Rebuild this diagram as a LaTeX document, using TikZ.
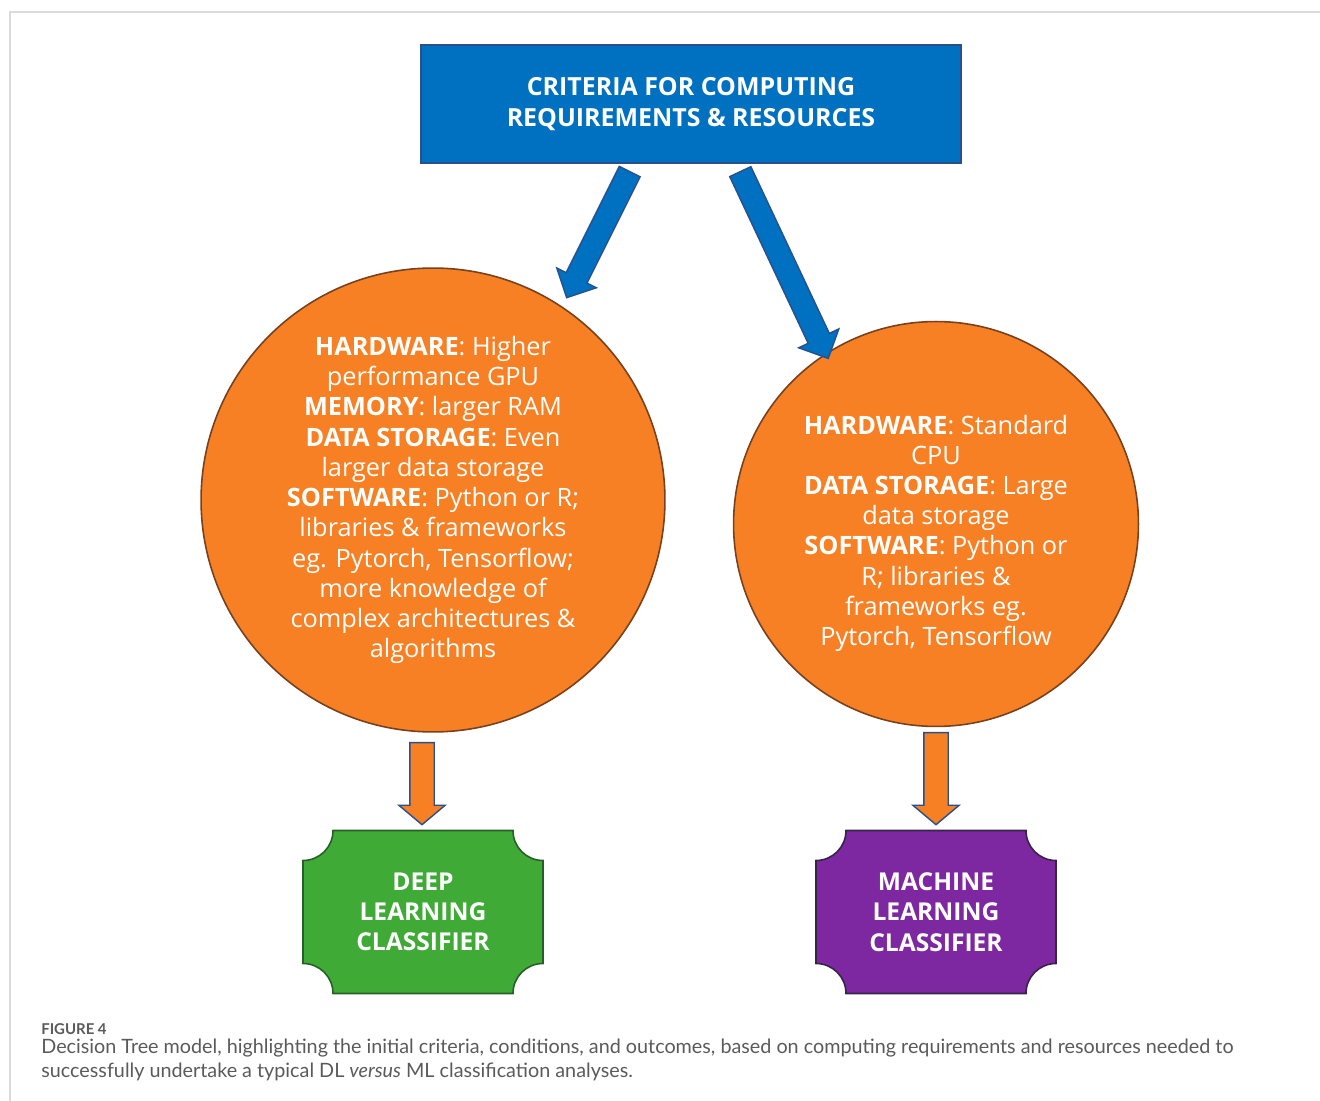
\documentclass[tikz,border=0pt]{standalone}
\usepackage{fontspec}
\setmainfont{Open Sans}
\newfontfamily\capfont{Lato}
\usetikzlibrary{shapes.arrows,positioning,calc,backgrounds}

\definecolor{critblue}{RGB}{0,112,192}
\definecolor{blueedge}{RGB}{40,80,140}
\definecolor{condorange}{RGB}{247,128,36}
\definecolor{orangeedge}{RGB}{120,65,30}
\definecolor{dlgreen}{RGB}{64,170,55}
\definecolor{greenedge}{RGB}{40,95,40}
\definecolor{mlpurple}{RGB}{125,40,160}
\definecolor{purpleedge}{RGB}{55,35,70}
\definecolor{capgrey}{RGB}{90,90,90}
\definecolor{framegrey}{RGB}{218,218,218}

% concave-cornered plate behind an outcome node
\newcommand{\platecorner}{0.6cm}
\newcommand{\outcomeplate}[3]{%
  \begin{pgfonlayer}{background}
  \filldraw[fill=#2, draw=#3, line width=0.9pt]
    ([xshift=\platecorner]#1.north west) -- ([xshift=-\platecorner]#1.north east)
    arc[start angle=180, end angle=270, radius=\platecorner]
    -- ([yshift=\platecorner]#1.south east)
    arc[start angle=90, end angle=180, radius=\platecorner]
    -- ([xshift=\platecorner]#1.south west)
    arc[start angle=0, end angle=90, radius=\platecorner]
    -- ([yshift=-\platecorner]#1.north west)
    arc[start angle=270, end angle=360, radius=\platecorner]
    -- cycle;
  \end{pgfonlayer}}

\begin{document}
\begin{tikzpicture}[
    x=0.02cm, y=-0.02cm,
    critbox/.style={rectangle, draw=blueedge, fill=critblue, line width=1pt,
                    text=white, align=center, minimum width=10.8cm,
                    minimum height=2.36cm,
                    font=\bfseries\fontsize{14.2}{17.2}\selectfont},
    condcirc/.style={circle, draw=orangeedge, fill=condorange, line width=0.9pt,
                     text=white, align=center, inner sep=0pt,
                     font=\fontsize{14.4}{17.2}\selectfont},
    outcome/.style={rectangle, minimum width=4.8cm, minimum height=3.26cm,
                    outer sep=0pt, text=white, align=center,
                    font=\bfseries\fontsize{14}{17.2}\selectfont},
    bluearrow/.style={single arrow, draw=blueedge, fill=critblue, line width=0.8pt,
                      inner xsep=0pt, inner ysep=0.22cm, minimum width=0.87cm,
                      single arrow head extend=0.21cm, single arrow tip angle=90},
    orangearrow/.style={single arrow, draw=blueedge, fill=condorange, line width=0.8pt,
                        inner xsep=0pt, inner ysep=0.23cm, minimum width=0.9cm,
                        single arrow head extend=0.22cm, single arrow tip angle=100},
  ]
    \useasboundingbox (0,0) rectangle (1320,1101);
    \draw[framegrey, line width=0.9pt] (1320,12) -- (10,12) -- (10,1101);

    \node[critbox] (crit) at (691,104) {CRITERIA FOR COMPUTING\\REQUIREMENTS \& RESOURCES};

    \node[condcirc, minimum size=9.28cm] (dlreq) at (433,500)
      {\textbf{HARDWARE}: Higher\\performance GPU\\\textbf{MEMORY}: larger RAM\\
       \textbf{DATA STORAGE}: Even\\larger data storage\\
       \textbf{SOFTWARE}: Python or R;\\libraries \& frameworks\\
       eg. Pytorch, Tensorflow;\\more knowledge of\\complex architectures \&\\algorithms};
    \node[condcirc, minimum size=8.1cm] (mlreq) at (936,524)
      {\rule{0pt}{21.5pt}\textbf{HARDWARE}: Standard\\CPU\\\textbf{DATA STORAGE}: Large\\data storage\\
       \textbf{SOFTWARE}: Python or\\R; libraries \&\\frameworks eg.\\Pytorch, Tensorflow};

    \node[outcome] (dlout) at (423,912) {DEEP\\LEARNING\\CLASSIFIER};
    \node[outcome] (mlout) at (936,912) {MACHINE\\LEARNING\\CLASSIFIER};
    \outcomeplate{dlout}{dlgreen}{greenedge}
    \outcomeplate{mlout}{mlpurple}{purpleedge}

    % block arrows
    \coordinate (toDLs) at (630,171);
    \coordinate (toDLe) at (567,297);
    \coordinate (toMLs) at (740,171);
    \coordinate (toMLe) at (828,358);
    \coordinate (dlArrs) at (422,742);
    \coordinate (dlArre) at (422,824);
    \coordinate (mlArrs) at (936,732);
    \coordinate (mlArre) at (936,824);
    \path (toDLs) -- (toDLe) node[bluearrow, pos=0, anchor=tail, sloped,
      allow upside down, minimum height=2.82cm] (critToDL) {};
    \path (toMLs) -- (toMLe) node[bluearrow, pos=0, anchor=tail, sloped,
      allow upside down, minimum height=4.13cm] (critToML) {};
    \path (dlArrs) -- (dlArre) node[orangearrow, pos=0, anchor=tail, sloped,
      allow upside down, minimum height=1.64cm] (dlToOut) {};
    \path (mlArrs) -- (mlArre) node[orangearrow, pos=0, anchor=tail, sloped,
      allow upside down, minimum height=1.84cm] (mlToOut) {};

    % caption
    \node[anchor=base west, inner sep=0pt, text=capgrey,
          font=\capfont\bfseries\fontsize{8.5}{10}\selectfont] (fignum) at (41,1034) {FIGURE 4};
    \node[anchor=north west, inner sep=0pt, text=capgrey, align=left,
          font=\capfont\fontsize{11.25}{13.7}\selectfont] (caption) at (41,1039)
      {Decision Tree model, highlighting the initial criteria, conditions, and outcomes, based on computing requirements and resources needed to\\
       successfully undertake a typical DL \textit{versus} ML classification analyses.};
\end{tikzpicture}
\end{document}
